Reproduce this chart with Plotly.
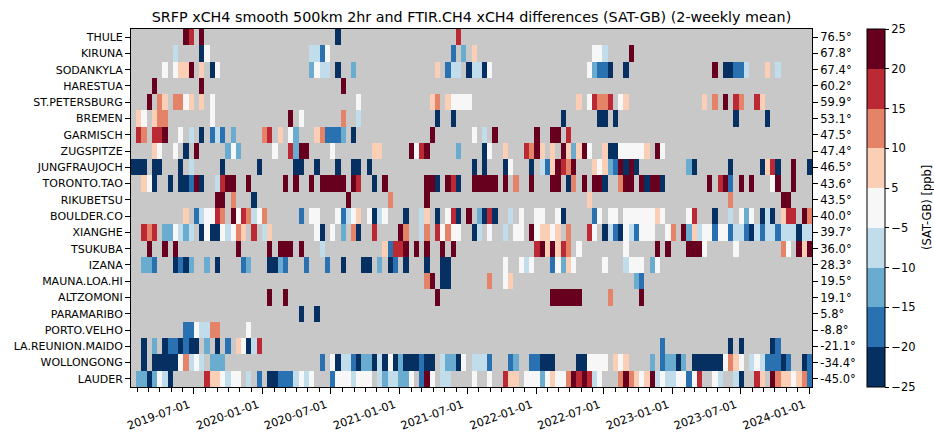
import numpy as np
import pandas as pd
import plotly.graph_objects as go

# ---------------- data ----------------
stations = ["THULE", "KIRUNA", "SODANKYLA", "HARESTUA", "ST.PETERSBURG", "BREMEN",
            "GARMISCH", "ZUGSPITZE", "JUNGFRAUJOCH", "TORONTO.TAO", "RIKUBETSU",
            "BOULDER.CO", "XIANGHE", "TSUKUBA", "IZANA", "MAUNA.LOA.HI", "ALTZOMONI",
            "PARAMARIBO", "PORTO.VELHO", "LA.REUNION.MAIDO", "WOLLONGONG", "LAUDER"]
latitudes = ["76.5°", "67.8°", "67.4°", "60.2°", "59.9°", "53.1°", "47.5°", "47.4°",
             "46.5°", "43.6°", "43.5°", "40.0°", "39.7°", "36.0°", "28.3°", "19.5°",
             "19.1°", "5.8°", "-8.8°", "-21.1°", "-34.4°", "-45.0°"]

period_start = "2019-01-14"   # first 2-weekly period
n_periods = 130
period_days = 14

# 2-weekly mean differences SAT-GB [ppb], keyed by period index
THULE = {10: 23, 11: 17, 13: 23, 39: -23, 62: 17}
KIRUNA = {8: -8, 13: -23, 14: 0, 34: -8, 35: -8, 36: -18, 37: 0, 61: -18, 63: -13, 65: 7,
          88: 0, 89: 0, 90: -8, 95: 23}
SODANKYLA = {6: 0, 8: 0, 9: 7, 10: 7, 11: 23, 13: 7, 15: -23, 16: 0, 34: -13, 35: 0, 36: -8,
             37: -8, 39: -23, 42: -13, 58: 7, 60: -18, 61: -8, 62: -8, 64: -23, 65: -8, 66: -8,
             67: -23, 68: 0, 87: 0, 88: -13, 89: -18, 90: -18, 91: -23, 94: -23, 111: 23,
             113: -23, 114: -23, 115: -18, 116: -18, 117: -8, 121: 7, 123: -8}
HARESTUA = {4: 23, 13: 23, 40: 23}
ST_PETERSBURG = {3: 23, 5: 12, 6: 7, 8: 12, 9: 12, 10: 0, 11: 7, 13: 7, 15: 0, 43: 0, 57: 7,
                 58: 12, 60: 7, 61: 0, 62: 0, 63: 0, 64: 0, 85: 7, 87: 0, 88: 17, 89: 12,
                 90: 12, 91: 17, 93: 0, 94: 7, 109: 7, 111: 12, 113: 23, 115: 17, 116: 12,
                 119: 17, 120: 7}
BREMEN = {1: 7, 2: 0, 4: 7, 5: 12, 6: 12, 15: 0, 30: 23, 32: 0, 40: 12, 43: -8, 58: -23,
          61: -23, 82: -23, 89: -23, 90: -23, 92: -23, 115: -23, 121: -23}
GARMISCH = {1: 17, 2: 12, 4: 17, 5: 17, 6: 23, 9: 0, 11: -8, 13: -23, 15: -18, 16: -8, 17: -18,
            19: -13, 25: 12, 26: 17, 28: 7, 30: 0, 31: -13, 35: 7, 36: 12, 37: -18, 38: -18,
            39: -18, 40: -13, 42: -23, 57: 23, 65: 0, 67: -8, 69: 23, 77: 23, 80: 23, 81: 23,
            83: 17}
ZUGSPITZE = {4: 7, 5: 0, 8: 0, 10: -23, 12: 23, 18: -13, 19: 0, 20: -13, 27: 0, 30: 17,
             31: -13, 32: 23, 33: 23, 38: 0, 46: 7, 47: 7, 53: 23, 54: 0, 55: 17, 56: 23,
             62: -13, 67: -23, 68: 0, 71: 7, 75: 17, 76: 12, 77: 23, 78: 7, 80: 7, 82: 23,
             83: 7, 84: -13, 85: 7, 86: 23, 87: 0, 90: 7, 91: -23, 92: -23, 93: 0, 94: 0,
             95: 0, 96: 0, 97: 0, 98: 7, 100: 23, 101: 0}
JUNGFRAUJOCH = {0: -23, 1: -23, 2: -23, 4: -23, 5: -23, 9: -23, 11: -8, 17: -23, 24: -23,
                31: -23, 32: -23, 35: -23, 39: -23, 42: -23, 43: -23, 45: -23, 65: -23,
                67: -23, 71: -23, 72: 0, 76: -23, 78: -8, 79: -18, 80: 7, 81: 23, 82: 17,
                83: 12, 84: 23, 88: 7, 89: 0, 90: 7, 91: -13, 92: -18, 93: 23, 94: -23,
                95: 23, 96: -23, 106: -13, 107: -23, 114: -23, 120: -23, 121: 7, 122: 17,
                123: -23, 126: 23, 129: -23}
TORONTO_TAO = {2: 7, 3: 0, 4: -23, 7: -23, 9: -23, 10: -23, 11: -18, 12: 23, 13: -23, 16: -8,
               17: 17, 18: 23, 19: 23, 22: 23, 29: 23, 31: 23, 34: 23, 36: 23, 37: 23, 38: 23,
               39: 23, 40: 23, 42: 23, 43: 17, 46: -23, 48: 23, 56: 23, 57: 23, 58: -23,
               60: 23, 61: 17, 62: -23, 65: 23, 66: 23, 67: 23, 68: 23, 69: 23, 71: 23,
               73: 12, 76: 23, 80: 23, 81: 23, 83: -23, 84: 12, 86: 23, 88: 23, 89: 23,
               90: -23, 93: 12, 94: 23, 95: 23, 97: 23, 98: -23, 99: 23, 100: 23, 101: -23,
               110: 23, 112: 17, 113: 23, 114: -18, 116: 23, 118: 23, 122: 0, 123: 23, 126: 23}
RIKUBETSU = {16: 23, 17: 23, 19: 12, 23: -23, 41: 23, 49: 12, 56: 23, 87: 7, 114: 12,
             124: 23, 125: 23}
BOULDER_CO = {10: 7, 12: -18, 13: -8, 14: 0, 15: 0, 16: 17, 17: 12, 19: 23, 20: 0, 21: 17,
              22: 12, 23: -8, 24: 0, 25: 12, 32: -18, 34: 0, 35: 0, 39: 0, 40: -18, 41: -8,
              42: 0, 43: 7, 45: 0, 46: -23, 47: -8, 48: 0, 52: -23, 55: -8, 56: 7, 58: -23,
              60: 0, 61: 17, 62: -23, 64: 23, 66: -13, 67: -23, 68: 17, 69: -23, 72: -8,
              74: 0, 77: 0, 78: 0, 81: 0, 82: -23, 88: -18, 89: 0, 91: 0, 92: 0, 94: 0,
              95: 0, 96: 0, 97: 0, 98: 0, 99: 0, 100: 7, 101: 0, 106: 0, 107: 17, 111: -23,
              114: -8, 116: 0, 117: -13, 118: 0, 120: -23, 121: -8, 122: -23, 124: 7,
              125: 17, 126: 17, 128: 23, 129: 12}
XIANGHE = {2: 17, 3: 12, 4: 17, 6: -13, 7: -13, 8: 0, 9: -8, 10: -13, 11: -8, 13: -23, 14: 0,
           15: -23, 16: -23, 17: 0, 18: -8, 19: 0, 20: 12, 21: 7, 23: 17, 25: -8, 26: 7,
           35: 0, 36: -23, 38: 0, 40: -13, 42: 12, 43: -23, 46: 17, 51: 23, 52: 12, 55: -8,
           56: 12, 58: 17, 59: 0, 60: 12, 61: 0, 62: 0, 65: -23, 66: -8, 68: 0, 71: -8,
           73: 0, 74: 0, 76: 23, 77: 0, 78: 7, 79: 7, 80: 0, 81: 7, 83: 12, 87: 17, 88: 0,
           90: -23, 91: -8, 92: -18, 93: -23, 94: 0, 95: -8, 96: -18, 97: 0, 98: 0, 99: 0,
           102: 0, 103: 12, 105: 23, 106: -13, 107: 7, 108: -8, 109: 0, 110: 0, 111: -18,
           112: 0, 113: 0, 114: -18, 115: -8, 116: -8, 117: -18, 118: -23, 119: -8,
           120: -18, 121: -8, 122: -8, 123: -18, 124: -8, 125: -8, 126: -8, 127: -23,
           128: -8, 129: -8}
TSUKUBA = {3: 23, 6: 23, 8: 23, 20: 23, 26: 23, 28: 23, 29: 23, 30: 23, 32: 23, 36: -8,
           48: 7, 49: -18, 50: 17, 51: 17, 52: 23, 54: 23, 56: 23, 59: 23, 61: 23, 77: 17,
           78: 23, 79: 7, 80: 23, 81: 7, 82: 17, 83: 12, 85: 0, 94: 0, 100: 23, 102: 23,
           106: 23, 107: 23, 108: 23, 109: 0, 115: 0, 124: 12, 125: 0, 127: 23, 128: 7,
           129: 23}
IZANA = {2: -13, 3: -13, 4: -18, 8: -23, 9: -18, 10: -23, 11: -13, 14: -13, 16: -23, 21: -18,
         22: -13, 26: -23, 27: -23, 28: -13, 29: -18, 33: -18, 37: -18, 40: -23, 44: -23,
         45: -23, 47: -13, 49: -23, 50: -18, 52: -23, 56: -23, 59: -23, 60: -23, 71: 0,
         74: 0, 75: -8, 76: 0, 80: -18, 81: 0, 82: -13, 83: 7, 84: 0, 90: 0, 94: -8, 95: 0,
         96: 0, 97: 0, 99: -13, 100: 0}
MAUNA_LOA_HI = {56: 12, 57: 23, 59: -23, 60: -23, 68: 12, 71: 0, 72: 7, 96: -13, 97: -18}
ALTZOMONI = {26: 23, 29: 23, 58: 23, 80: 23, 81: 23, 82: 23, 83: 23, 84: 23, 85: 23, 91: 12,
             97: 23}
PARAMARIBO = {32: -23, 35: -23}
PORTO_VELHO = {10: -18, 11: -18, 12: 0, 13: -8, 14: -8, 15: 12, 16: 12, 22: 0}
LA_REUNION_MAIDO = {2: -23, 4: -13, 6: -23, 7: -18, 8: -18, 9: -23, 10: -18, 11: -23,
                    12: -23, 14: -13, 16: -23, 18: -18, 20: 7, 21: 0, 22: -23, 23: -8,
                    24: 17, 101: -18, 114: -23, 116: -23, 122: -23, 123: -18}
WOLLONGONG = {2: -23, 4: -23, 5: -23, 6: -23, 7: -23, 8: -23, 9: 0, 10: 12, 11: -8, 12: 0,
              13: -8, 15: -13, 16: -13, 17: -13, 36: -18, 38: 0, 39: -23, 40: -8, 41: -8,
              42: -18, 43: -23, 44: -13, 45: -13, 46: -23, 47: -8, 48: -23, 49: 0, 50: -23,
              51: -13, 52: -23, 53: -23, 54: -23, 55: -18, 56: -23, 57: -23, 59: -8, 60: -13,
              61: -13, 62: -23, 63: 0, 65: -8, 66: -8, 67: -8, 68: -18, 72: -18, 73: -13,
              76: -18, 77: -18, 78: -23, 79: -23, 80: -23, 85: -23, 86: -23, 87: 0, 88: 0,
              89: 0, 90: 0, 92: 7, 93: 0, 94: 7, 99: -13, 101: -18, 102: -13, 103: -13,
              104: -23, 105: -13, 107: -23, 108: -23, 109: -23, 110: -23, 111: -23, 112: -23,
              113: 0, 114: 12, 115: 7, 116: 0, 118: -8, 119: 0, 120: -8, 121: -18, 122: -18,
              123: -18, 124: -23, 125: -18, 128: -23, 129: -18}
LAUDER = {1: -13, 2: -13, 3: -23, 4: -13, 5: 0, 6: -8, 7: -23, 14: 17, 15: 7, 16: 7, 17: 0,
          18: -8, 19: 0, 20: 0, 22: -8, 24: -18, 26: -23, 27: -23, 28: -18, 29: -18, 30: -18,
          31: -8, 32: 0, 33: -8, 34: 0, 38: -18, 39: 0, 40: 0, 41: 0, 42: -8, 43: 0, 44: 0,
          45: 0, 47: -8, 48: -13, 49: -8, 50: -8, 51: -13, 52: -13, 53: 0, 55: -18, 56: 23,
          57: 0, 59: -8, 60: -8, 65: 0, 68: 0, 71: 17, 72: 7, 73: 7, 75: 0, 76: 0, 77: 0,
          78: -13, 79: 0, 80: 7, 81: 0, 82: 0, 83: 12, 84: 23, 85: 17, 86: 23, 87: 17,
          88: -8, 89: 0, 93: 12, 94: 23, 95: 12, 96: 7, 97: 0, 98: 7, 99: 23, 100: -8,
          101: 0, 102: -8, 103: -8, 104: 0, 105: 0, 106: -18, 107: 0, 108: 17, 111: 0,
          112: -8, 115: -8, 116: -23, 119: 17, 120: 7, 122: 23, 123: 12, 124: 7, 125: 7,
          126: 0, 127: 7, 128: 12, 129: -18}

station_diffs = [THULE, KIRUNA, SODANKYLA, HARESTUA, ST_PETERSBURG, BREMEN, GARMISCH,
                 ZUGSPITZE, JUNGFRAUJOCH, TORONTO_TAO, RIKUBETSU, BOULDER_CO, XIANGHE,
                 TSUKUBA, IZANA, MAUNA_LOA_HI, ALTZOMONI, PARAMARIBO, PORTO_VELHO,
                 LA_REUNION_MAIDO, WOLLONGONG, LAUDER]

# colour classes
bounds = [-25, -20, -15, -10, -5, 5, 10, 15, 20, 25]
bound_labels = ["−25", "−20", "−15", "−10", "−5", "5", "10", "15", "20", "25"]
class_colors = ["#053061", "#2a71b1", "#6aacd0", "#c1ddec", "#f7f7f7",
                "#fbceb6", "#e58368", "#bb2a34", "#67001f"]
x_ticks = ["2019-07-01", "2020-01-01", "2020-07-01", "2021-01-01", "2021-07-01",
           "2022-01-01", "2022-07-01", "2023-01-01", "2023-07-01", "2024-01-01"]

# ---------------- build grid ----------------
starts = pd.date_range(period_start, periods=n_periods, freq=f"{period_days}D")
centers = starts + pd.Timedelta(days=period_days / 2)
x_end = starts[-1] + pd.Timedelta(days=period_days)

z = np.full((len(stations), n_periods), np.nan)
for i, d in enumerate(station_diffs):
    for k, v in d.items():
        cls = int(np.digitize(v, bounds)) - 1
        cls = min(max(cls, 0), len(class_colors) - 1)
        z[i, k] = cls + 0.5

ncls = len(class_colors)
colorscale = []
for i, c in enumerate(class_colors):
    colorscale.append([i / ncls, c])
    colorscale.append([(i + 1) / ncls, c])

FONT = "DejaVu Sans"
L, R, T, B = 131, 122, 29, 45
W, H = 934, 432
pw = W - L - R

fig = go.Figure()
fig.add_trace(go.Heatmap(
    z=z, x=centers, y=stations, zmin=0, zmax=ncls, colorscale=colorscale,
    hoverongaps=False,
    colorbar=dict(
        x=(867 - L) / pw, xanchor="left", xpad=0, y=0.5, yanchor="middle", ypad=0,
        len=1, lenmode="fraction", thickness=18,
        outlinecolor="black", outlinewidth=1,
        tickmode="array", tickvals=list(range(ncls + 1)), ticktext=bound_labels,
        ticks="outside", ticklen=4, tickwidth=1, tickcolor="black",
        tickfont=dict(family=FONT, size=11.5, color="black"),
    ),
))
# invisible helper trace for the right-hand latitude axis
fig.add_trace(go.Scatter(x=[centers[0]], y=[0], yaxis="y2", mode="markers",
                         marker=dict(opacity=0), hoverinfo="skip", showlegend=False))

fig.add_annotation(text="(SAT-GB) [ppb]", xref="paper", yref="paper",
                   x=(927 - L) / pw, y=0.5, xanchor="center", yanchor="middle",
                   textangle=-90, showarrow=False,
                   font=dict(family=FONT, size=11.5, color="black"))

fig.update_layout(
    width=W, height=H,
    margin=dict(l=L, r=R, t=T, b=B, autoexpand=False),
    paper_bgcolor="white", plot_bgcolor="#c8c8c8",
    font=dict(family=FONT, size=11, color="black"),
    title=dict(text="SRFP xCH4 smooth 500km 2hr and FTIR.CH4 xCH4 differences (SAT-GB) (2-weekly mean)",
               x=0.5, xref="paper", xanchor="center", y=1 - 17 / H, yanchor="middle",
               font=dict(family=FONT, size=14.3, color="black")),
    xaxis=dict(type="date", range=[starts[0], x_end], showgrid=False, zeroline=False,
               tickmode="array", tickvals=x_ticks, ticktext=x_ticks, tickangle=-20,
               ticklabelshift=-5,
               ticks="outside", ticklen=6, tickwidth=1.3, tickcolor="black",
               showline=True, linecolor="black", linewidth=1, mirror=True,
               tickfont=dict(family=FONT, size=11.3),
               minor=dict(dtick="M1", tick0="2019-01-01", ticks="outside", ticklen=4,
                          tickwidth=1, tickcolor="black", showgrid=False)),
    yaxis=dict(autorange="reversed", showgrid=False, zeroline=False,
               ticks="outside", ticklen=5, tickcolor="black",
               showline=True, linecolor="black", linewidth=1, mirror=True,
               tickfont=dict(family=FONT, size=11)),
    yaxis2=dict(overlaying="y", side="right", range=[len(stations) - 0.5, -0.5],
                tickmode="array", tickvals=list(range(len(stations))), ticktext=latitudes,
                ticks="outside", ticklen=5, tickcolor="black", showgrid=False,
                zeroline=False, showline=False, tickfont=dict(family=FONT, size=11.5)),
)

fig.write_html("out.html", config={"displayModeBar": False},
               post_script="document.body.style.margin='0';")
